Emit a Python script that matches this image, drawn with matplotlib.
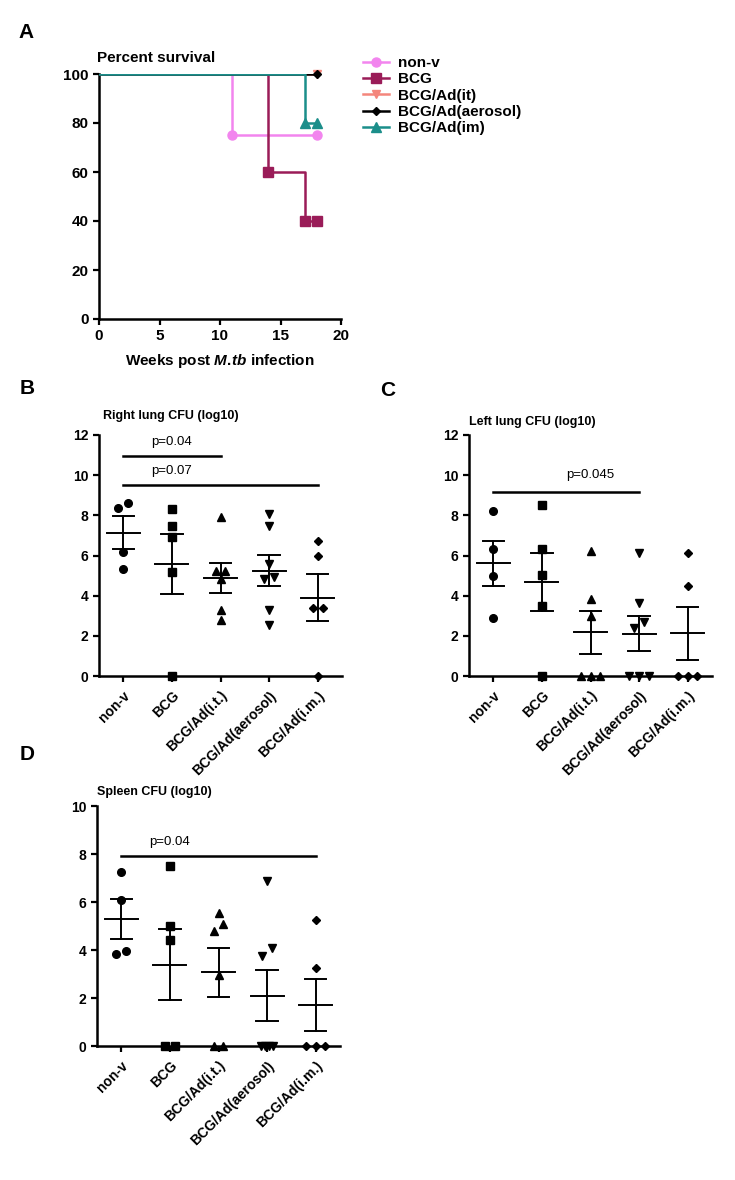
import numpy as np
import matplotlib.pyplot as plt

plt.rcParams['font.family'] = ['Liberation Sans', 'DejaVu Sans']
plt.rcParams['font.weight'] = 'bold'
plt.rcParams['mathtext.fontset'] = 'custom'
plt.rcParams['mathtext.rm'] = 'Liberation Sans:bold'
plt.rcParams['mathtext.it'] = 'Liberation Sans:italic:bold'

# ---- survival data (panel A) ----
surv_labels = ['non-v', 'BCG', 'BCG/Ad(it)', 'BCG/Ad(aerosol)', 'BCG/Ad(im)']
weeks_nonv = [0, 11, 18]
surv_nonv = [100, 75, 75]
weeks_bcg = [0, 14, 17, 18]
surv_bcg = [100, 60, 40, 40]
weeks_it = [0, 18]
surv_it = [100, 100]
weeks_aer = [0, 18]
surv_aer = [100, 100]
weeks_im = [0, 17, 18]
surv_im = [100, 80, 80]

# ---- CFU data (panels B-D), log10 ----
groups = ['non-v', 'BCG', 'BCG/Ad(i.t.)', 'BCG/Ad(aerosol)', 'BCG/Ad(i.m.)']
right_lung = [
    [8.38, 8.63, 6.18, 5.35],
    [8.34, 7.46, 6.93, 5.19, 0.0],
    [7.93, 5.24, 5.24, 4.82, 3.31, 2.81],
    [8.09, 7.46, 5.57, 4.82, 4.94, 3.31, 2.53],
    [6.70, 6.00, 3.41, 3.41, 0.0],
]
left_lung = [
    [8.23, 6.32, 4.99, 2.91],
    [8.51, 6.32, 5.05, 3.49, 0.0],
    [6.23, 3.81, 3.00, 0.0, 0.0, 0.0],
    [6.12, 3.61, 2.68, 2.39, 0.0, 0.0, 0.0],
    [6.12, 4.49, 0.0, 0.0, 0.0],
]
spleen = [
    [7.23, 6.10, 3.84, 3.97],
    [7.49, 5.01, 4.41, 0.0, 0.0],
    [5.56, 5.10, 4.80, 2.94, 0.0, 0.0],
    [6.88, 4.09, 3.74, 0.0, 0.0, 0.0, 0.0],
    [5.24, 3.25, 0.0, 0.0, 0.0],
]
# significance bars: (from group, to group, bar height, text x, label)
sig_right = [(0, 2, 10.97, 1, 'p=0.04'), (0, 4, 9.5, 1, 'p=0.07')]
sig_left = [(0, 3, 9.17, 2, 'p=0.045')]
sig_spleen = [(0, 4, 7.92, 1, 'p=0.04')]

markers = ['o', 's', '^', 'v', 'D']
msizes = [5.5, 5.5, 5.5, 5.5, 3.8]

fig = plt.figure(figsize=(7.35, 11.8), dpi=100)
W, H = 735.0, 1180.0


def add_ax(l, t, r, b):
    return fig.add_axes([l / W, 1 - b / H, (r - l) / W, (b - t) / H])


def style(ax):
    for s in ['top', 'right']:
        ax.spines[s].set_visible(False)
    for s in ['left', 'bottom']:
        ax.spines[s].set_linewidth(1.8)
    ax.tick_params(width=1.6, length=4, direction='out')


# ---------------- panel A ----------------
axA = add_ax(99, 74, 341, 319)
colors = ['#F285EE', '#9A1C58', '#F4867C', '#000000', '#1B8E8A']
surv_sets = [(weeks_nonv, surv_nonv), (weeks_bcg, surv_bcg), (weeks_it, surv_it),
             (weeks_aer, surv_aer), (weeks_im, surv_im)]
surv_markers = ['o', 's', 'v', 'D', '^']
surv_ms = [6.5, 7.5, 6, 4, 6.5]
for (wk, sv), c, m, ms, lab in zip(surv_sets, colors, surv_markers, surv_ms, surv_labels):
    axA.plot(wk, sv, drawstyle='steps-post', color=c, lw=1.8, zorder=3, label=lab)
    axA.plot(wk[1:], sv[1:], ls='none', marker=m, ms=ms, color=c, clip_on=False, zorder=4)
axA.set_xlim(0, 20)
axA.set_ylim(0, 100)
axA.set_xticks([0, 5, 10, 15, 20])
axA.set_yticks([0, 20, 40, 60, 80, 100])
style(axA)
axA.tick_params(labelsize=11)
axA.set_xlabel(r'Weeks post $\mathit{M.\!tb}$ infection', fontsize=11, fontweight='bold', labelpad=6)
fig.text(97 / W, 1 - 58 / H, 'Percent survival', fontsize=11, fontweight='bold',
         ha='left', va='center')
hands = []
for c, m, ms, lab in zip(colors, surv_markers, surv_ms, surv_labels):
    h, = axA.plot([], [], color=c, lw=1.8, marker=m, ms=ms, label=lab)
    hands.append(h)
fig.legend(handles=hands, loc='upper left', bbox_to_anchor=(357 / W, 1 - 50 / H),
           frameon=False, fontsize=11, handlelength=1.7, handletextpad=0.6,
           labelspacing=0.15, borderaxespad=0)
fig.text(18 / W, 1 - 33 / H, 'A', fontsize=15, fontweight='bold', va='center')


# ---------------- dot plots ----------------
def spread(vals, tol=0.36):
    vals = np.asarray(vals)
    order = np.argsort(vals, kind='stable')
    offs = np.zeros(len(vals))
    clusters = [[order[0]]]
    for k in order[1:]:
        if vals[k] - vals[clusters[-1][-1]] < tol:
            clusters[-1].append(k)
        else:
            clusters.append([k])
    for cl in clusters:
        n = len(cl)
        step = 0.2 if n <= 3 else 0.08
        for i, k in enumerate(cl):
            offs[k] = (i - (n - 1) / 2) * step
    return offs


def dot_panel(ax, data, ymax, sigs, text_off):
    for i, vals in enumerate(data):
        vals = np.asarray(vals)
        x = i + spread(vals)
        ax.plot(x, vals, ls='none', marker=markers[i], ms=msizes[i], color='k',
                clip_on=False, zorder=4)
        m = vals.mean()
        sem = vals.std(ddof=1) / np.sqrt(len(vals))
        ax.plot([i - 0.34, i + 0.34], [m, m], color='k', lw=1.4, zorder=3)
        ax.plot([i, i], [m - sem, m + sem], color='k', lw=1.4, zorder=3)
        for yy in (m - sem, m + sem):
            ax.plot([i - 0.22, i + 0.22], [yy, yy], color='k', lw=1.4, zorder=3)
    for a, b, h, xt, lab in sigs:
        ax.plot([a, b], [h, h], color='k', lw=1.8)
        ax.annotate(lab, xy=(xt, h), xytext=(0, text_off), textcoords='offset points',
                    ha='center', va='center', fontsize=9.5, fontweight='normal')
    ax.set_xlim(-0.5, 4.5)
    ax.set_ylim(0, ymax)
    ax.set_yticks(np.arange(0, ymax + 1, 2))
    ax.set_xticks(range(len(groups)))
    ax.set_xticklabels(groups, rotation=45, ha='right', rotation_mode='anchor')
    style(ax)
    ax.tick_params(labelsize=10)
    ax.tick_params(axis='x', pad=5)


axB = add_ax(99, 435, 342, 676)
dot_panel(axB, right_lung, 12, sig_right, 10)
fig.text(103 / W, 1 - 416 / H, 'Right lung CFU (log10)', fontsize=9, fontweight='bold', va='center')
fig.text(20 / W, 1 - 389 / H, 'B', fontsize=15, fontweight='bold', va='center')

axC = add_ax(469, 435, 712, 676)
dot_panel(axC, left_lung, 12, sig_left, 12)
fig.text(469 / W, 1 - 422 / H, 'Left lung CFU (log10)', fontsize=9, fontweight='bold', va='center')
fig.text(380 / W, 1 - 390 / H, 'C', fontsize=15, fontweight='bold', va='center')

axD = add_ax(97, 806, 340, 1046)
dot_panel(axD, spleen, 10, sig_spleen, 10)
fig.text(97 / W, 1 - 792 / H, 'Spleen CFU (log10)', fontsize=9, fontweight='bold', va='center')
fig.text(20 / W, 1 - 755 / H, 'D', fontsize=15, fontweight='bold', va='center')

fig.savefig('out.png', dpi=100)
